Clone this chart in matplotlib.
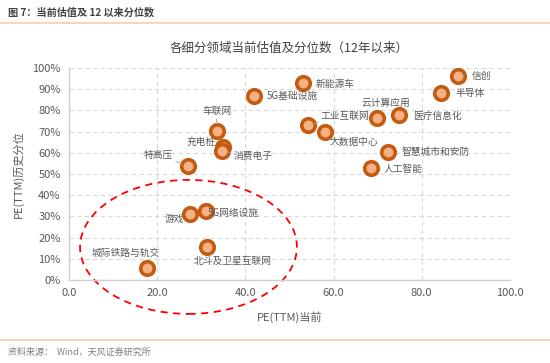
import matplotlib
matplotlib.use('Agg')
import matplotlib.pyplot as plt
from matplotlib.patches import Ellipse
from matplotlib.lines import Line2D

plt.rcParams['font.family'] = ['Noto Sans CJK SC', 'DejaVu Sans']

# data
names = ['信创', '半导体', '新能源车', '5G基础设施', '云计算应用', '医疗信息化',
         '工业互联网', '大数据中心', '智慧城市和安防', '人工智能', '车联网', '充电桩',
         '消费电子', '特高压', '游戏', '5G网络设施', '北斗及卫星互联网', '城际铁路与轨交']
pe_now = [88.2, 84.4, 53.0, 42.0, 69.8, 74.8, 54.2, 58.0, 72.3, 68.5,
          33.5, 34.9, 34.6, 27.0, 27.4, 31.1, 31.2, 17.6]
pe_pct = [96.2, 88.2, 92.9, 86.8, 76.4, 77.8, 73.1, 69.8, 60.4, 52.8,
          70.3, 62.7, 60.8, 53.8, 31.1, 32.5, 15.6, 5.7]

# label offsets in pixels (dx, dy, ha, leader line)
lab = {
    '信创': (14, 0, 'left', False),
    '半导体': (14, 0, 'left', False),
    '新能源车': (13, -1, 'left', False),
    '5G基础设施': (13, 0, 'left', False),
    '云计算应用': (9, 15, 'center', False),
    '医疗信息化': (14, -1, 'left', False),
    '工业互联网': (13, 9, 'left', True),
    '大数据中心': (29, -10, 'center', False),
    '智慧城市和安防': (14, 0, 'left', False),
    '人工智能': (13, -1, 'left', False),
    '车联网': (0, 20, 'center', True),
    '充电桩': (-7, 5, 'right', False),
    '消费电子': (12, -5, 'left', True),
    '特高压': (-15, 11, 'right', True),
    '游戏': (-6, -5, 'right', False),
    '5G网络设施': (2, -2, 'left', False),
    '北斗及卫星互联网': (26, -14, 'center', False),
    '城际铁路与轨交': (-21, 15, 'center', False),
}

fig = plt.figure(figsize=(5.5, 3.63), dpi=100)
ax = fig.add_axes([0.1255, 0.2287, 0.8015, 0.584])

ax.scatter(pe_now, pe_pct, s=95, facecolor='#F4B183', edgecolor='#C55A11',
           linewidth=2.6, zorder=3)

for n, x, y in zip(names, pe_now, pe_pct):
    dx, dy, ha, line = lab[n]
    ax.annotate(n, (x, y), xytext=(dx, dy), textcoords='offset pixels',
                ha=ha, va='center', fontsize=7, color='#595959', zorder=4,
                arrowprops=dict(arrowstyle='-', color='#A6A6A6', lw=0.7,
                                shrinkA=0, shrinkB=5) if line else None)

ell = Ellipse((27.1, 15.6), 49.2, 63.2, fill=False, edgecolor='red',
              linestyle=(0, (4, 3)), linewidth=1.3, clip_on=False, zorder=2)
ax.add_patch(ell)

ax.set_xlim(0, 100)
ax.set_ylim(0, 100)
ax.set_xticks([0, 20, 40, 60, 80, 100])
ax.set_xticklabels(['0.0', '20.0', '40.0', '60.0', '80.0', '100.0'])
ax.set_yticks(range(0, 101, 10))
ax.set_yticklabels(['%d%%' % v for v in range(0, 101, 10)])
ax.tick_params(length=0, labelsize=8, colors='#595959', pad=6)
ax.grid(True, color='#D9D9D9', linestyle=(0, (4, 3)), linewidth=0.8)
ax.set_axisbelow(True)
for s in ['top', 'right']:
    ax.spines[s].set_visible(False)
for s in ['left', 'bottom']:
    ax.spines[s].set_color('#D0D0D0')
    ax.spines[s].set_linewidth(1)

ax.set_xlabel('PE(TTM)当前', fontsize=8, color='#595959', labelpad=9)
ax.set_ylabel('PE(TTM)历史分位', fontsize=8, color='#595959', labelpad=6)
ax.set_title('各细分领域当前估值及分位数（12年以来）', fontsize=9,
             color='#404040', pad=12)

fig.text(0.015, 0.967, '图 7：当前估值及 12 以来分位数', fontsize=7.3,
         fontweight='bold', color='#404040', va='center')
fig.add_artist(Line2D([0, 1], [0.937, 0.937], color='#F8CBAD', lw=1.2))
fig.add_artist(Line2D([0, 1], [0.063, 0.063], color='#F8CBAD', lw=1.2))
fig.text(0.015, 0.03, '资料来源：  Wind，天风证券研究所', fontsize=6.5,
         color='#7F7F7F', va='center')

plt.savefig('out.png', dpi=100)
